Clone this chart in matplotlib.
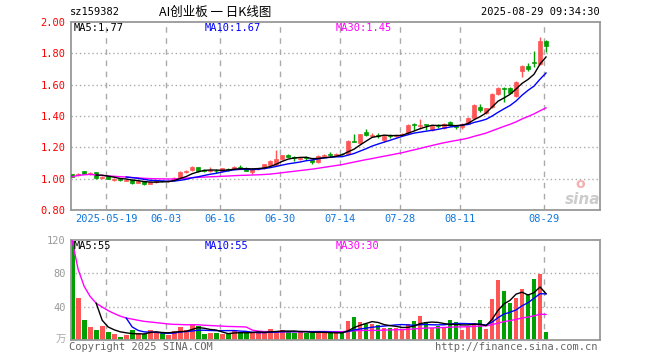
import numpy as np
import pandas as pd
import matplotlib
matplotlib.use("Agg")
import matplotlib.pyplot as plt

# trading days 2025-05-09 .. 2025-08-29 (06-02 holiday)
dates = pd.bdate_range("2025-05-09", "2025-08-29")
dates = dates[dates != pd.Timestamp("2025-06-02")]

opens = [1.027, 1.024, 1.048, 1.030, 1.040, 1.004, 1.015, 0.994, 0.996, 0.988,
         0.992, 0.974, 0.982, 0.968, 0.976, 0.987, 0.982, 0.990, 1.004, 1.040,
         1.054, 1.072, 1.053, 1.047, 1.052, 1.046, 1.062, 1.060, 1.076, 1.070,
         1.044, 1.062, 1.068, 1.090, 1.086, 1.124, 1.153, 1.136, 1.127, 1.136,
         1.121, 1.104, 1.146, 1.156, 1.152, 1.160, 1.158, 1.240, 1.226, 1.300,
         1.274, 1.280, 1.248, 1.276, 1.270, 1.280, 1.290, 1.346, 1.338, 1.346,
         1.310, 1.340, 1.325, 1.362, 1.336, 1.330, 1.350, 1.390, 1.460, 1.420,
         1.455, 1.540, 1.578, 1.576, 1.530, 1.690, 1.720, 1.745, 1.730, 1.877]
highs = [1.032, 1.036, 1.052, 1.045, 1.043, 1.015, 1.018, 1.003, 1.000, 0.996,
         0.995, 0.988, 0.986, 0.982, 0.992, 0.992, 0.990, 1.008, 1.050, 1.056,
         1.078, 1.075, 1.060, 1.075, 1.060, 1.068, 1.066, 1.078, 1.086, 1.073,
         1.062, 1.070, 1.096, 1.118, 1.182, 1.152, 1.156, 1.142, 1.136, 1.142,
         1.126, 1.150, 1.156, 1.170, 1.162, 1.166, 1.244, 1.282, 1.288, 1.316,
         1.290, 1.290, 1.276, 1.285, 1.284, 1.290, 1.348, 1.356, 1.380, 1.352,
         1.340, 1.346, 1.354, 1.366, 1.342, 1.354, 1.394, 1.474, 1.478, 1.454,
         1.544, 1.582, 1.582, 1.582, 1.626, 1.726, 1.740, 1.815, 1.902, 1.882]
lows = [1.010, 1.020, 1.030, 1.025, 1.000, 0.995, 0.998, 0.985, 0.988, 0.984,
        0.968, 0.970, 0.960, 0.964, 0.972, 0.978, 0.976, 0.986, 1.000, 1.035,
        1.050, 1.042, 1.040, 1.043, 1.036, 1.042, 1.050, 1.056, 1.064, 1.046,
        1.032, 1.056, 1.064, 1.086, 1.080, 1.118, 1.136, 1.115, 1.120, 1.122,
        1.095, 1.100, 1.140, 1.142, 1.146, 1.150, 1.156, 1.232, 1.222, 1.274,
        1.268, 1.258, 1.236, 1.260, 1.266, 1.276, 1.286, 1.312, 1.316, 1.310,
        1.306, 1.326, 1.320, 1.336, 1.320, 1.320, 1.346, 1.386, 1.428, 1.414,
        1.450, 1.534, 1.490, 1.544, 1.522, 1.646, 1.686, 1.710, 1.725, 1.810]
closes = [1.012, 1.030, 1.032, 1.036, 1.005, 1.008, 1.000, 0.998, 0.993, 0.991,
          0.973, 0.983, 0.966, 0.979, 0.988, 0.983, 0.986, 1.004, 1.044, 1.050,
          1.074, 1.046, 1.050, 1.056, 1.048, 1.066, 1.058, 1.074, 1.071, 1.050,
          1.060, 1.067, 1.093, 1.115, 1.126, 1.150, 1.140, 1.130, 1.132, 1.130,
          1.108, 1.145, 1.151, 1.152, 1.157, 1.157, 1.240, 1.236, 1.284, 1.280,
          1.278, 1.275, 1.272, 1.270, 1.281, 1.284, 1.345, 1.340, 1.345, 1.340,
          1.335, 1.336, 1.350, 1.340, 1.332, 1.350, 1.390, 1.470, 1.436, 1.450,
          1.540, 1.577, 1.574, 1.550, 1.620, 1.720, 1.702, 1.740, 1.877, 1.845]
volumes = [119, 50, 24, 15.6, 12, 16.8, 9.6, 7.2, 3.6, 6,
           12, 8, 7, 12, 10, 8, 6, 10.8, 15.6, 12,
           19, 17, 7, 8.4, 8.4, 7.6, 6.8, 11, 10, 8,
           9, 11, 8, 13, 10, 12, 10, 9, 10, 9,
           8, 11, 8, 8, 8, 8, 23, 27.6, 21.6, 19,
           19, 18, 15, 15, 15, 12, 19, 23, 29, 21.6,
           15, 17, 16, 24, 21.6, 12, 17, 20, 24, 13,
           49, 72, 59, 45, 50, 61, 55, 73, 79, 10]

label_dates = ["2025-05-19", "2025-06-03", "2025-06-16", "2025-06-30",
               "2025-07-14", "2025-07-28", "2025-08-11", "2025-08-29"]
date_labels = ["2025-05-19", "06-03", "06-16", "06-30",
               "07-14", "07-28", "08-11", "08-29"]

price_ticks = [0.80, 1.00, 1.20, 1.40, 1.60, 1.80, 2.00]
vol_ticks = [40, 80, 120]

RED = "#ff5555"
GREEN = "#00a000"
GRID = "#aaaaaa"
BOX = "#999999"
MONO = "DejaVu Sans Mono"

df = pd.DataFrame({"open": opens, "high": highs, "low": lows,
                   "close": closes, "vol": volumes}, index=dates)
x = np.arange(len(df))
up = df["close"] >= df["open"]
colors = np.where(up, RED, GREEN)

ma5 = df["close"].rolling(5).mean()
ma10 = df["close"].rolling(10).mean()
ma30 = df["close"].rolling(30, min_periods=1).mean()
vma5 = df["vol"].rolling(5).mean()
vma10 = df["vol"].rolling(10).mean()
vma30 = df["vol"].rolling(30, min_periods=1).mean()

grid_x = [df.index.get_loc(pd.Timestamp(d)) - 0.3 for d in label_dates]

W, H = 660, 360
fig = plt.figure(figsize=(W / 100, H / 100), dpi=100)


def px(l, t, r, b):
    return [l / W, 1 - b / H, (r - l) / W, (b - t) / H]


ax = fig.add_axes(px(71, 22, 600, 210))
axv = fig.add_axes(px(71, 240, 600, 340))

for a in (ax, axv):
    a.set_xlim(-0.2, 88)
    for s in a.spines.values():
        s.set_color(BOX)
        s.set_linewidth(1.3)
    for gx in grid_x:
        a.axvline(gx, color=GRID, lw=1, ls=(0, (4, 4)), zorder=0)

# velas
ax.vlines(x, df["low"], df["high"], colors=colors, lw=1, zorder=2)
body_lo = np.minimum(df["open"], df["close"])
body_h = np.maximum(np.abs(df["close"] - df["open"]), 0.002)
ax.bar(x, body_h, 0.75, bottom=body_lo, color=colors, edgecolor=colors,
       linewidth=0.5, zorder=3)
ax.plot(x, ma30, color="#ff00ff", lw=1, zorder=4)
ax.plot(x, ma10, color="#0000ff", lw=1, zorder=4)
ax.plot(x, ma5, color="black", lw=1, zorder=4)

ax.set_ylim(0.80, 2.00)
for p in price_ticks[1:-1]:
    ax.axhline(p, color=GRID, lw=1, ls=(0, (1, 2)), zorder=0)
ax.set_yticks(price_ticks)
ax.set_yticklabels(["%.2f" % p for p in price_ticks], family=MONO, fontsize=7.5)
ax.tick_params(axis="y", length=0, labelcolor="red", pad=4)
ax.set_xticks(grid_x)
ax.set_xticklabels(date_labels, family=MONO, fontsize=7.5)
ax.tick_params(axis="x", length=0, labelcolor="#1177dd", pad=3)

# volumen
axv.bar(x, df["vol"], 0.8, color=colors, zorder=2)
axv.plot(x, vma30, color="#ff00ff", lw=1, zorder=4)
axv.plot(x, vma10, color="#0000ff", lw=1, zorder=4)
axv.plot(x, vma5, color="black", lw=1, zorder=4)
axv.set_ylim(0, 120)
for v in vol_ticks[:-1]:
    axv.axhline(v, color=GRID, lw=1, ls=(0, (1, 2)), zorder=0)
axv.set_yticks(vol_ticks)
axv.set_yticklabels([str(v) for v in vol_ticks], family=MONO, fontsize=7.5)
axv.tick_params(axis="y", length=0, labelcolor="#999999", pad=4)
axv.set_xticks([])


def ftext(xp, yp, s, **kw):
    kw.setdefault("family", MONO)
    kw.setdefault("fontsize", 7.5)
    kw.setdefault("va", "center")
    fig.text(xp / W, 1 - yp / H, s, **kw)


ftext(70, 12, "sz159382")
ftext(215, 12, "AI创业板 一 日K线图", ha="center", fontsize=9,
      family=["Noto Sans CJK SC", "DejaVu Sans"])
ftext(600, 12, "2025-08-29 09:34:30", ha="right")

ftext(74, 28, "MA5:1.77", color="black")
ftext(205, 28, "MA10:1.67", color="#0000ff")
ftext(336, 28, "MA30:1.45", color="#ff00ff")
ftext(74, 246, "MA5:55", color="black")
ftext(205, 246, "MA10:55", color="#0000ff")
ftext(336, 246, "MA30:30", color="#ff00ff")

ftext(66, 340, "万", ha="right", color="#aaaaaa",
      family=["Noto Sans CJK SC", "DejaVu Sans"])
ftext(69, 347, "Copyright 2025 SINA.COM", color="#666666")
ftext(598, 347, "http://finance.sina.com.cn", ha="right", color="#666666")

# marca de agua
ftext(583, 200, "sina", ha="center", fontsize=11, color="#cccccc",
      style="italic", weight="bold", family="DejaVu Sans")
ftext(580, 184, "o", ha="center", fontsize=10, color="#f4b0b0",
      weight="bold", family="DejaVu Sans")

fig.savefig("out.png", dpi=100)
